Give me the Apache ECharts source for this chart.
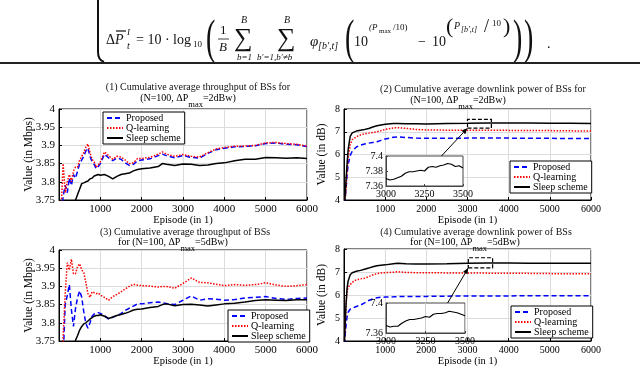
<!DOCTYPE html>
<html>
<head>
<meta charset="utf-8">
<script src="https://cdn.jsdelivr.net/npm/echarts@6.0.0/dist/echarts.min.js"></script>
<style>
html,body{margin:0;padding:0;background:#fff;}
#main{width:640px;height:368px;}
</style>
</head>
<body>
<div id="main"></div>
<script>
// 吞吐量曲线的采样回合 (图1, 图3)
var epT = [50,100,150,200,250,300,350,400,450,500,
  550,600,650,700,750,800,850,900,950,1000,
  1100,1200,1300,1400,1500,1600,1700,1800,1900,2000,
  2200,2400,2500,2600,2800,3000,3200,3400,3600,3800,
  4000,4250,4500,4750,5000,5250,5500,5750,6000];

// (1) ΔPmax = 2dBw, throughput
var thr2Proposed = [3.70,3.76,3.79,3.77,3.81,3.79,3.82,3.81,3.83,3.85,
  3.86,3.87,3.885,3.893,3.87,3.855,3.848,3.836,3.842,3.85,
  3.876,3.866,3.858,3.865,3.862,3.852,3.845,3.848,3.858,3.86,
  3.863,3.872,3.876,3.872,3.866,3.872,3.867,3.865,3.878,3.888,
  3.892,3.896,3.897,3.899,3.905,3.907,3.903,3.902,3.897];
var thr2QLearning = [3.72,3.85,3.77,3.80,3.82,3.80,3.83,3.84,3.84,3.86,
  3.87,3.88,3.895,3.904,3.88,3.862,3.855,3.84,3.846,3.855,
  3.882,3.872,3.862,3.87,3.868,3.86,3.85,3.852,3.864,3.864,
  3.867,3.876,3.882,3.876,3.87,3.875,3.87,3.868,3.88,3.89,
  3.894,3.898,3.898,3.9,3.907,3.908,3.905,3.903,3.898];
var thr2Sleep = [3.60,3.64,3.67,3.69,3.71,3.72,3.73,3.75,3.765,3.78,
  3.795,3.797,3.80,3.802,3.808,3.81,3.816,3.818,3.82,3.818,
  3.82,3.815,3.808,3.815,3.82,3.822,3.824,3.83,3.834,3.836,
  3.838,3.842,3.85,3.848,3.845,3.849,3.848,3.845,3.846,3.85,
  3.852,3.858,3.862,3.862,3.867,3.866,3.865,3.866,3.864];

// (3) ΔPmax = 5dBw, throughput
var thr5Proposed = [3.60,3.70,3.85,3.875,3.905,3.836,3.79,3.84,3.87,3.888,
  3.87,3.83,3.798,3.785,3.80,3.818,3.824,3.826,3.828,3.826,
  3.82,3.81,3.815,3.82,3.825,3.834,3.84,3.846,3.852,3.852,
  3.855,3.857,3.855,3.853,3.85,3.862,3.874,3.862,3.866,3.865,
  3.862,3.864,3.868,3.87,3.872,3.867,3.864,3.867,3.868];
var thr5QLearning = [3.60,3.76,3.88,3.965,3.945,3.975,3.935,3.935,3.955,3.962,
  3.945,3.938,3.91,3.88,3.87,3.885,3.883,3.88,3.882,3.876,
  3.87,3.862,3.872,3.878,3.885,3.893,3.90,3.906,3.903,3.902,
  3.901,3.898,3.90,3.90,3.895,3.908,3.923,3.911,3.91,3.906,
  3.902,3.905,3.903,3.905,3.91,3.904,3.90,3.902,3.905];
var thr5Sleep = [3.60,3.64,3.67,3.69,3.71,3.725,3.74,3.752,3.765,3.78,
  3.79,3.797,3.80,3.805,3.81,3.814,3.818,3.82,3.82,3.822,
  3.818,3.812,3.816,3.82,3.823,3.826,3.83,3.835,3.837,3.838,
  3.842,3.845,3.85,3.852,3.847,3.85,3.851,3.849,3.846,3.849,
  3.852,3.854,3.857,3.861,3.863,3.862,3.861,3.863,3.863];

// 功率曲线的采样回合 (图2, 图4)
var epP = [0,25,50,75,100,150,200,300,400,500,
  600,700,800,900,1000,1200,1300,1500,1750,2000,
  2500,3000,3500,4000,4500,5000,5500,6000];

var pow2Proposed = [3.5,4.0,4.5,5.1,5.55,5.95,6.15,6.33,6.41,6.46,
  6.5,6.53,6.56,6.62,6.68,6.76,6.77,6.75,6.72,6.71,
  6.71,6.72,6.73,6.72,6.71,6.71,6.7,6.7];
var pow2QLearning = [3.5,4.0,4.5,5.3,5.85,6.42,6.65,6.78,6.86,6.91,
  6.94,6.97,7.0,7.05,7.1,7.17,7.18,7.15,7.1,7.08,
  7.07,7.07,7.07,7.06,7.05,7.05,7.04,7.03];
var pow2Sleep = [3.5,4.1,4.9,5.6,6.2,6.8,6.95,7.03,7.07,7.1,
  7.14,7.21,7.26,7.3,7.33,7.36,7.36,7.35,7.35,7.34,
  7.36,7.37,7.39,7.38,7.38,7.37,7.37,7.36];

var pow5Proposed = [3.5,4.2,4.7,5.05,5.25,5.38,5.42,5.5,5.56,5.66,
  5.76,5.83,5.88,5.9,5.91,5.92,5.93,5.93,5.94,5.94,
  5.95,5.96,5.96,5.96,5.97,5.97,5.97,5.97];
var pow5QLearning = [3.5,4.5,5.6,6.2,6.32,6.45,6.55,6.66,6.7,6.73,
  6.8,6.87,6.93,6.96,6.97,6.99,7.01,6.98,6.97,6.97,
  6.96,6.96,6.95,6.95,6.94,6.93,6.92,6.92];
var pow5Sleep = [3.5,4.6,5.6,6.3,6.6,6.88,6.97,7.03,7.07,7.12,
  7.17,7.23,7.27,7.29,7.31,7.36,7.38,7.36,7.35,7.35,
  7.36,7.38,7.39,7.39,7.38,7.38,7.38,7.38];

// 放大图 3000-3500
var epZoom = [3000,3025,3050,3075,3100,3125,3150,3175,3200,3225,3250,
  3275,3300,3325,3350,3375,3400,3425,3450,3475,3500];
var zoom2Sleep = [7.370,7.368,7.369,7.371,7.373,7.377,7.379,7.379,7.380,7.381,7.380,
  7.385,7.386,7.385,7.387,7.388,7.390,7.389,7.386,7.387,7.384];
var zoom5Sleep = [7.370,7.368,7.369,7.369,7.373,7.376,7.378,7.378,7.379,7.380,7.382,
  7.381,7.385,7.386,7.386,7.387,7.389,7.388,7.387,7.385,7.383];

var names = ['Proposed', 'Q-learning', 'Sleep scheme'];
var FONT = 'Liberation Serif';

function pairs(xs, ys) {
  return xs.map(function (x, i) { return [x, ys[i]]; });
}

var styles = [
  {color: '#0000ff', width: 1.5, type: [5, 3]},
  {color: '#ff0000', width: 1.5, type: [1.5, 1.5]},
  {color: '#000000', width: 1.5, type: 'solid'}
];

function mkLine(name, g, xs, ys, st, extra) {
  var s = {
    name: name, type: 'line', xAxisIndex: g, yAxisIndex: g,
    data: pairs(xs, ys), showSymbol: false, symbol: 'none',
    lineStyle: st, itemStyle: {color: st.color}, z: 2
  };
  if (extra) for (var k in extra) s[k] = extra[k];
  return s;
}

function fmt(v) { return String(+v.toFixed(2)); }
function fmtInt(v) { return String(v); }

function mainX(g, fs) {
  return {
    gridIndex: g, type: 'value', min: 0, max: 6000, interval: 1000,
    axisLine: {onZero: false, lineStyle: {color: '#000'}},
    axisTick: {inside: true, length: 3, lineStyle: {color: '#000'}},
    axisLabel: {showMinLabel: false, color: '#000', fontFamily: FONT, fontSize: fs, margin: 4, formatter: fmtInt},
    splitLine: {lineStyle: {color: '#dcdcdc'}},
    name: 'Episode (in 1)', nameLocation: 'middle', nameGap: 15, nameMoveOverlap: false,
    nameTextStyle: {color: '#000', fontFamily: FONT, fontSize: 10.5}
  };
}

function mainY(g, min, max, interval, name, gap, fs) {
  return {
    gridIndex: g, type: 'value', min: min, max: max, interval: interval,
    axisLine: {lineStyle: {color: '#000'}},
    axisTick: {inside: true, length: 3, lineStyle: {color: '#000'}},
    axisLabel: {color: '#000', fontFamily: FONT, fontSize: fs, margin: 4, formatter: fmt},
    splitLine: {lineStyle: {color: '#dcdcdc'}},
    name: name, nameLocation: 'middle', nameGap: gap, nameMoveOverlap: false,
    nameTextStyle: {color: '#000', fontFamily: FONT, fontSize: 11.5}
  };
}

function insetX(g, grid) {
  return {
    gridIndex: g, type: 'value', min: 3000, max: 3500, interval: 250, z: 6,
    axisLine: {onZero: false, lineStyle: {color: '#444'}},
    axisTick: {inside: true, length: 2, lineStyle: {color: '#444'}},
    axisLabel: {color: '#000', fontFamily: FONT, fontSize: 10, margin: 3, formatter: fmtInt},
    splitLine: {show: grid, lineStyle: {color: '#cfcfcf'}}
  };
}

function insetY(g, interval) {
  return {
    gridIndex: g, type: 'value', min: 7.36, max: 7.4, interval: interval, z: 6,
    axisLine: {lineStyle: {color: '#444'}},
    axisTick: {inside: true, length: 2, lineStyle: {color: '#444'}},
    axisLabel: {color: '#000', fontFamily: FONT, fontSize: 10, margin: 3, formatter: fmt},
    splitLine: {show: false}
  };
}

function mkLegend(left, top) {
  return {
    data: names, left: left, top: top, orient: 'vertical',
    itemGap: 0, itemWidth: 16, itemHeight: 8, padding: [1, 4, 1, 3],
    borderColor: '#000', borderWidth: 1, backgroundColor: '#fff',
    itemStyle: {opacity: 0},
    textStyle: {color: '#000', fontFamily: FONT, fontSize: 10, padding: [0, 0, 0, -2]},
    selectedMode: false
  };
}

var zoomBox = {
  color: 'rgba(0,0,0,0)', borderColor: '#000', borderWidth: 1.2, borderType: [4, 2]
};

var option = {
  animation: false,
  backgroundColor: '#fff',
  grid: [
    {left: 59, top: 109, width: 248, height: 91, show: true, borderColor: '#000', borderWidth: 1},
    {left: 344, top: 109, width: 247, height: 91, show: true, borderColor: '#000', borderWidth: 1},
    {left: 59, top: 250, width: 248, height: 96, show: true, borderColor: '#000', borderWidth: 1},
    {left: 344, top: 249, width: 247, height: 97, show: true, borderColor: '#000', borderWidth: 1},
    {left: 386, top: 156, width: 77, height: 30, show: true, z: 5, backgroundColor: '#fff', borderColor: '#444', borderWidth: 1},
    {left: 386, top: 303, width: 79, height: 30, show: true, z: 5, backgroundColor: '#fff', borderColor: '#444', borderWidth: 1}
  ],
  xAxis: [mainX(0, 11), mainX(1, 10), mainX(2, 11), mainX(3, 10), insetX(4, false), insetX(5, true)],
  yAxis: [
    mainY(0, 3.75, 4, 0.05, 'Value (in Mbps)', 24, 11),
    mainY(1, 4, 8, 1, 'Value (in dB)', 16, 10),
    mainY(2, 3.75, 4, 0.05, 'Value (in Mbps)', 24, 11),
    mainY(3, 4, 8, 1, 'Value (in dB)', 16, 10),
    insetY(4, 0.02),
    insetY(5, 0.04)
  ],
  legend: [mkLegend(103, 112), mkLegend(510, 161), mkLegend(228, 310), mkLegend(511, 306)],
  series: [
    mkLine(names[0], 0, epT, thr2Proposed, styles[0]),
    mkLine(names[1], 0, epT, thr2QLearning, styles[1]),
    mkLine(names[2], 0, epT, thr2Sleep, styles[2]),

    mkLine(names[0], 1, epP, pow2Proposed, styles[0]),
    mkLine(names[1], 1, epP, pow2QLearning, styles[1]),
    mkLine(names[2], 1, epP, pow2Sleep, styles[2], {
      markArea: {silent: true, itemStyle: zoomBox, data: [[{coord: [3000, 7.16]}, {coord: [3580, 7.54]}]]}
    }),

    mkLine(names[0], 2, epT, thr5Proposed, styles[0]),
    mkLine(names[1], 2, epT, thr5QLearning, styles[1]),
    mkLine(names[2], 2, epT, thr5Sleep, styles[2]),

    mkLine(names[0], 3, epP, pow5Proposed, styles[0]),
    mkLine(names[1], 3, epP, pow5QLearning, styles[1]),
    mkLine(names[2], 3, epP, pow5Sleep, styles[2], {
      markArea: {silent: true, itemStyle: zoomBox, data: [[{coord: [3020, 7.18]}, {coord: [3610, 7.62]}]]}
    }),

    mkLine(names[2], 4, epZoom, zoom2Sleep, {color: '#000', width: 1.2, type: 'solid'}, {z: 7}),
    mkLine(names[2], 5, epZoom, zoom5Sleep, {color: '#000', width: 1.2, type: 'solid'}, {z: 7})
  ]
};

var chart = echarts.init(document.getElementById('main'), null, {renderer: 'canvas'});
chart.setOption(option);

// 文字与公式
function tx(x, y, text, size, o) {
  o = o || {};
  var el = {
    type: 'text', x: x, y: y, z: 20,
    style: {
      text: text, fontSize: size, fontFamily: FONT, fill: '#111',
      fontStyle: o.italic ? 'italic' : 'normal',
      align: o.align || 'left', verticalAlign: 'middle', rich: o.rich
    }
  };
  if (o.sy) el.scaleY = o.sy;
  return el;
}

var subRich = {
  n: {fontSize: 10, fontFamily: FONT, fill: '#000', lineHeight: 16, verticalAlign: 'top'},
  s: {fontSize: 8.5, fontFamily: FONT, fill: '#000', lineHeight: 16, verticalAlign: 'bottom'}
};

var g = [];
// 小标题
g.push(tx(198, 87, '(1) Cumulative average throughput of BSs for', 10, {align: 'center'}));
g.push(tx(188, 101, '{n|(N=100, \u0394P}{s|max}{n|=2dBw)}', 10, {align: 'center', rich: subRich}));
g.push(tx(483, 89, '(2) Cumulative average downlink power of BSs for', 10, {align: 'center'}));
g.push(tx(458, 103, '{n|(N=100, \u0394P}{s|max}{n|=2dBw)}', 10, {align: 'center', rich: subRich}));
g.push(tx(185, 232, '(3) Cumulative average throughput of BSs', 10, {align: 'center'}));
g.push(tx(173, 245, '{n|for (N=100, \u0394P}{s|max}{n|=5dBw)}', 10, {align: 'center', rich: subRich}));
g.push(tx(476, 232, '(4) Cumulative average downlink power of BSs', 10, {align: 'center'}));
g.push(tx(465, 245, '{n|for (N=100, \u0394P}{s|max}{n|=5dBw)}', 10, {align: 'center', rich: subRich}));

// 公式
g.push({type: 'line', z: 20, shape: {x1: 98, y1: 0, x2: 98, y2: 52}, style: {stroke: '#111', lineWidth: 2}});
g.push({type: 'bezierCurve', z: 20, shape: {x1: 98, y1: 52, cpx1: 98, cpy1: 60, x2: 104, y2: 62}, style: {stroke: '#111', lineWidth: 2, fill: null}});
g.push(tx(106, 40, '\u0394', 14));
g.push(tx(115, 40, 'P', 14, {italic: true}));
g.push({type: 'line', z: 20, shape: {x1: 116, y1: 31, x2: 126, y2: 31}, style: {stroke: '#111', lineWidth: 1.2}});
g.push(tx(127, 33, 'I', 9, {italic: true}));
g.push(tx(127, 46, 't', 10, {italic: true}));
g.push(tx(136, 40, '= 10 \u00b7 log', 14));
g.push(tx(193, 45, '10', 9));
g.push({type: 'text', x: 206, y: 40, z: 20, scaleY: 1.7, style: {text: '(', fontSize: 28, fontFamily: FONT, fill: '#111', verticalAlign: 'middle'}});
g.push(tx(220, 31, '1', 13));
g.push({type: 'line', z: 20, shape: {x1: 218, y1: 39, x2: 229, y2: 39}, style: {stroke: '#111', lineWidth: 0.8}});
g.push(tx(219, 48, 'B', 13, {italic: true}));
g.push(tx(234, 39, '\u2211', 26));
g.push(tx(241, 20, 'B', 10, {italic: true}));
g.push(tx(237, 58, 'b=1', 9, {italic: true}));
g.push(tx(277, 39, '\u2211', 26));
g.push(tx(284, 20, 'B', 10, {italic: true}));
g.push(tx(257, 58, 'b\u2032=1,b\u2032\u2260b', 9, {italic: true}));
g.push(tx(310, 42, '\u03c6', 15, {italic: true}));
g.push(tx(318, 46, '[b\u2032,t]', 10, {italic: true}));
g.push({type: 'text', x: 345, y: 40, z: 20, scaleY: 1.7, style: {text: '(', fontSize: 28, fontFamily: FONT, fill: '#111', verticalAlign: 'middle'}});
g.push(tx(354, 42, '10', 14));
g.push(tx(369, 28, '(P', 9, {italic: true}));
g.push(tx(379, 31, 'max', 7));
g.push(tx(393, 28, '/10)', 9));
g.push(tx(418, 42, '\u2212', 14));
g.push(tx(432, 42, '10', 14));
g.push(tx(446, 27, '(', 22));
g.push(tx(454, 26, 'P', 10, {italic: true}));
g.push(tx(461, 30, '[b\u2032,t]', 8, {italic: true}));
g.push(tx(484, 27, '/', 18));
g.push(tx(492, 24, '10', 9));
g.push(tx(503, 27, ')', 22));
g.push({type: 'text', x: 513, y: 40, z: 20, scaleY: 1.7, style: {text: ')', fontSize: 28, fontFamily: FONT, fill: '#111', verticalAlign: 'middle'}});
g.push({type: 'text', x: 524, y: 40, z: 20, scaleY: 1.7, style: {text: ')', fontSize: 28, fontFamily: FONT, fill: '#111', verticalAlign: 'middle'}});
g.push(tx(547, 44, '.', 14));
g.push({type: 'rect', z: 20, shape: {x: 0, y: 62, width: 640, height: 2}, style: {fill: '#222'}});

// 放大框连线
function arrow(from, to) {
  var dx = to[0] - from[0], dy = to[1] - from[1];
  var L = Math.sqrt(dx * dx + dy * dy), ux = dx / L, uy = dy / L;
  var bx = to[0] - ux * 6, by = to[1] - uy * 6;
  g.push({type: 'line', z: 15, shape: {x1: from[0], y1: from[1], x2: bx, y2: by}, style: {stroke: '#000', lineWidth: 1}});
  g.push({type: 'polygon', z: 15, shape: {points: [to, [bx - uy * 2.5, by + ux * 2.5], [bx + uy * 2.5, by - ux * 2.5]]}, style: {fill: '#000'}});
}
arrow(chart.convertToPixel({gridIndex: 4}, [3360, 7.4]), chart.convertToPixel({gridIndex: 1}, [3000, 7.16]));
arrow(chart.convertToPixel({gridIndex: 5}, [3390, 7.4]), chart.convertToPixel({gridIndex: 3}, [3020, 7.18]));

chart.setOption({graphic: g});
</script>
</body>
</html>
